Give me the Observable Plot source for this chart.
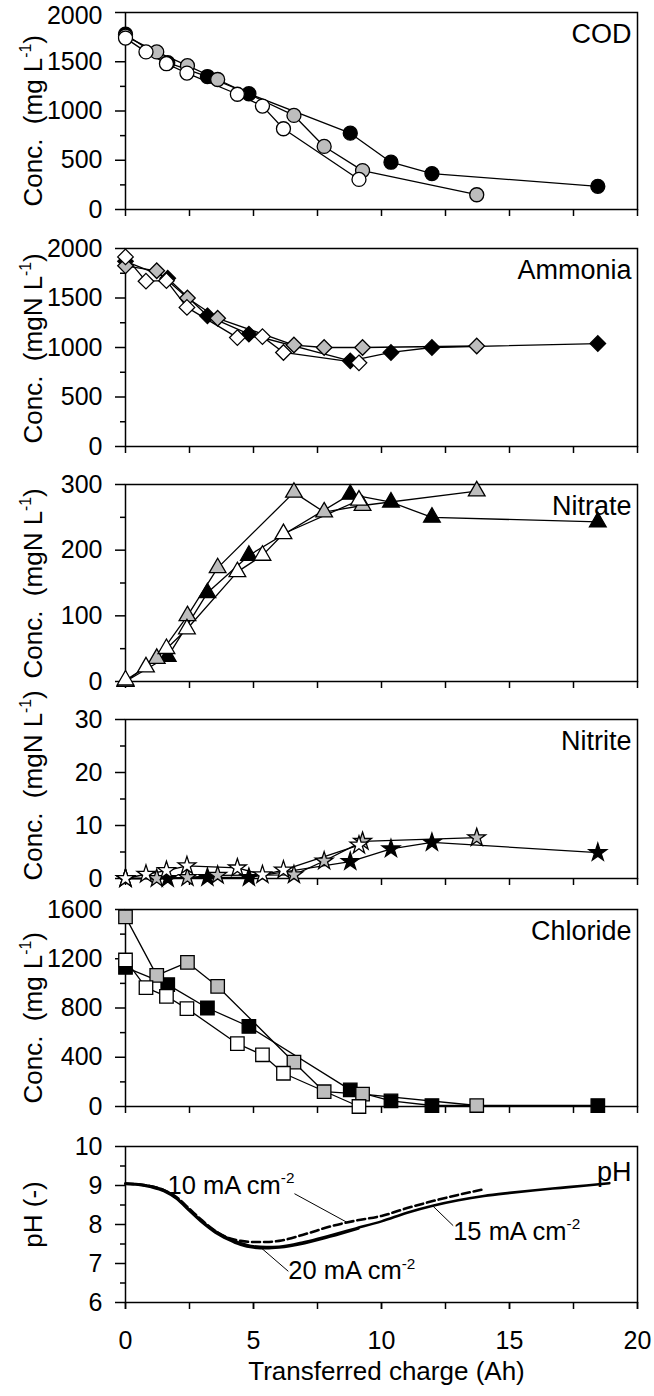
<!DOCTYPE html>
<html><head><meta charset="utf-8">
<script src="https://cdn.jsdelivr.net/npm/d3@7"></script>
<script src="https://cdn.jsdelivr.net/npm/@observablehq/plot@0.6"></script>
<style>
body{margin:0;background:#fff;}
#chart{position:relative;width:654px;height:1396px;overflow:hidden;font-family:"Liberation Sans",Arial,sans-serif;}
#chart > div{position:absolute;left:0;}
svg{overflow:visible;}
</style></head><body><div id="chart"></div>
<script>
// ---- sampling points (transferred charge, Ah) ----
const xBlack = [0, 1.65, 3.2, 4.82, 8.78, 10.37, 11.97, 18.45];
const xGray  = [0, 1.22, 2.42, 3.6, 6.58, 7.76, 9.26, 13.72];
const xWhite = [0, 0.8, 1.6, 2.4, 4.37, 5.35, 6.17, 9.12];

// ---- COD (mg L-1) ----
const codBlack = [1780, 1490, 1350, 1175, 775, 480, 365, 235];
const codGray  = [1760, 1600, 1460, 1320, 955, 640, 395, 150];
const codWhite = [1740, 1600, 1480, 1385, 1170, 1050, 820, 305];

// ---- Ammonia (mgN L-1) ----
const nh4Black = [1870, 1700, 1320, 1135, 865, 950, 1000, 1040];
const nh4Gray  = [1825, 1775, 1500, 1295, 1025, 1000, 1000, 1015];
const nh4White = [1915, 1670, 1675, 1405, 1100, 1110, 950, 845];

// ---- Nitrate (mgN L-1) ----
const no3Black = [0, 38, 135, 192, 285, 273, 250, 243];
const no3Gray  = [0, 35, 100, 173, 288, 258, 268, 290];
const no3White = [2, 22, 50, 80, 167, 192, 225, 276];

// ---- Nitrite (mgN L-1) ----
const no2Black = [0, 0, 0.2, 0.2, 3.2, 5.6, 6.8, 4.9];
const no2Gray  = [0, 0, 0.2, 0.6, 0.7, 3.3, 7.0, 7.7];
const no2White = [0, 0.8, 1.5, 2.4, 2.0, 0.7, 1.6, 6.3];

// ---- Chloride (mg L-1) ----
const clBlack = [1130, 990, 800, 650, 135, 45, 8, 8];
const clGray  = [1540, 1065, 1170, 975, 360, 120, 100, 8];
const clWhite = [1190, 965, 895, 795, 510, 420, 270, 0];

// ---- pH curves ----
const pH15x = [0, 0.5, 1, 1.5, 2, 2.5, 3, 3.5, 4, 4.5, 5, 5.5, 6, 7, 8, 9, 10, 11, 12, 13, 14, 15, 16, 17, 18, 18.9];
const pH15  = [9.05, 9.03, 8.98, 8.88, 8.68, 8.37, 8.08, 7.83, 7.65, 7.52, 7.44, 7.42, 7.43, 7.55, 7.72, 7.9, 8.08, 8.3, 8.48, 8.62, 8.73, 8.81, 8.88, 8.94, 9.0, 9.06];
const pH10x = [0, 0.5, 1, 1.5, 2, 2.5, 3, 3.5, 4, 4.5, 5, 5.5, 6, 7, 8, 9, 10, 11, 12, 13, 13.9];
const pH10  = [9.05, 9.03, 8.98, 8.88, 8.7, 8.4, 8.1, 7.84, 7.66, 7.58, 7.55, 7.55, 7.58, 7.75, 7.95, 8.1, 8.22, 8.42, 8.6, 8.76, 8.89];
const pH20x = [0, 0.5, 1, 1.5, 2, 2.5, 3, 3.5, 4, 4.5, 5, 5.5, 6, 7, 8, 9.1];
const pH20  = [9.04, 9.02, 8.96, 8.86, 8.66, 8.35, 8.05, 7.8, 7.62, 7.48, 7.41, 7.39, 7.41, 7.52, 7.69, 7.9];

// ---- labels ----
const panelTitles = ["COD", "Ammonia", "Nitrate", "Nitrite", "Chloride", "pH"];
const yLabels = ["Conc.  (mg L^-1)", "Conc.  (mgN L^-1)", "Conc.  (mgN L^-1)", "Conc.  (mgN L^-1)", "Conc.  (mg L^-1)", "pH (-)"];
const xLabel = "Transferred charge (Ah)";
const pHNotes = [
  {text: "10 mA cm^-2", x: 1.64, y: 9.0, x1: 6.6, y1: 8.79, x2: 8.64, y2: 8.06},
  {text: "15 mA cm^-2", x: 12.8, y: 7.82, x1: 12.8, y1: 7.97, x2: 11.98, y2: 8.49},
  {text: "20 mA cm^-2", x: 6.36, y: 6.8, x1: 6.36, y1: 6.8, x2: 5.3, y2: 7.4}
];

const FONT = "Liberation Sans, Arial, sans-serif";
const zipXY = (xs, ys) => xs.map((x, i) => ({x, y: ys[i]}));
const fills = {black: "#000", gray: "#bdbdbd", white: "#fff"};

function supify(svg) {
  d3.select(svg).selectAll("text").each(function () {
    const t = this.textContent;
    if (!t.includes("^")) return;
    const m = t.match(/^(.*)\^(-?\d+)(.*)$/);
    if (!m) return;
    const fs = parseFloat(this.getAttribute("font-size")) || parseFloat(this.parentNode.getAttribute("font-size")) || 24;
    while (this.firstChild) this.removeChild(this.firstChild);
    const s = d3.select(this);
    s.append("tspan").text(m[1]);
    s.append("tspan").attr("font-size", fs * 0.6).attr("dy", -fs * 0.42).text(m[2]);
    if (m[3]) s.append("tspan").attr("dy", fs * 0.42).text(m[3]);
  });
}

const panels = [
  {top: 12, bottom: 209, domain: [0, 2000], majors: [0, 500, 1000, 1500, 2000], minors: [250, 750, 1250, 1750],
   symbol: "circle", r: 7, series: [codBlack, codGray, codWhite]},
  {top: 248, bottom: 446, domain: [0, 2000], majors: [0, 500, 1000, 1500, 2000], minors: [250, 750, 1250, 1750],
   symbol: "diamond2", r: 7, series: [nh4Black, nh4Gray, nh4White]},
  {top: 484, bottom: 681, domain: [0, 300], majors: [0, 100, 200, 300], minors: [50, 150, 250],
   symbol: "triangle", r: 6.2, series: [no3Black, no3Gray, no3White]},
  {top: 719, bottom: 878, domain: [0, 30], majors: [0, 10, 20, 30], minors: [5, 15, 25],
   symbol: "star", r: 5.6, series: [no2Black, no2Gray, no2White]},
  {top: 909, bottom: 1106, domain: [0, 1600], majors: [0, 400, 800, 1200, 1600], minors: [200, 600, 1000, 1400],
   symbol: "square", r: 7.6, series: [clBlack, clGray, clWhite]},
  {top: 1146, bottom: 1302, domain: [6, 10], majors: [6, 7, 8, 9, 10], minors: [6.5, 7.5, 8.5, 9.5]}
];

const chart = document.getElementById("chart");
panels.forEach((p, i) => {
  const last = i === panels.length - 1;
  const mt = i === 0 ? 12 : 20;
  const mb = last ? 1396 - p.bottom : 22;
  const topMax = p.domain[1];
  const marks = [
    Plot.frame({stroke: "black", strokeWidth: 1.5}),
    Plot.axisY({ticks: p.majors, tickSize: 10, tickPadding: 13,
      tickFormat: d => (i === 0 && d === topMax) ? "" : String(d), label: null, strokeWidth: 1.5, fontSize: 25}),
    Plot.axisY({ticks: p.minors, tickSize: 5, tickFormat: () => "", label: null, strokeWidth: 1.5}),
    Plot.axisX({ticks: d3.range(0, 20.01, 2.5), tickSize: 7, tickFormat: () => "", label: null, strokeWidth: 1.5})
  ];
  if (i === 0) {
    // top tick label of the first panel, nudged down so it stays inside the page
    marks.push(Plot.text([topMax], {y: d => d, text: d => String(d), frameAnchor: "left", textAnchor: "end", lineAnchor: "middle", dx: -23, dy: 3, fontSize: 25}));
  }
  if (last) {
    marks.push(Plot.axisX({ticks: [0, 5, 10, 15, 20], tickSize: 7, tickPadding: 22, tickFormat: d => String(d), label: null, strokeWidth: 1.5, fontSize: 25}));
    marks.push(Plot.text([xLabel], {text: d => d, frameAnchor: "bottom", dx: 5, dy: 69, lineAnchor: "middle", fontSize: 26}));
    marks.push(Plot.line(zipXY(pH20x, pH20), {x: "x", y: "y", stroke: "black", strokeWidth: 2.6, curve: "monotone-x"}));
    marks.push(Plot.line(zipXY(pH15x, pH15), {x: "x", y: "y", stroke: "black", strokeWidth: 2.6, curve: "monotone-x"}));
    marks.push(Plot.line(zipXY(pH10x, pH10), {x: "x", y: "y", stroke: "black", strokeWidth: 2.6, strokeDasharray: "8,4", curve: "monotone-x"}));
    marks.push(Plot.link(pHNotes, {x1: "x1", y1: "y1", x2: "x2", y2: "y2", stroke: "black", strokeWidth: 1}));
    marks.push(Plot.text(pHNotes, {x: "x", y: "y", text: "text", textAnchor: "start", lineAnchor: "middle", fontSize: 25.5}));
    marks.push(Plot.text([yLabels[i]], {text: d => d, frameAnchor: "left", textAnchor: "middle", rotate: -90, lineAnchor: "middle", dx: -92, dy: -10, fontSize: 26}));
  } else {
    const xs = [xBlack, xGray, xWhite];
    const cols = ["black", "gray", "white"];
    p.series.forEach((ys, k) => marks.push(Plot.line(zipXY(xs[k], ys), {x: "x", y: "y", stroke: "black", strokeWidth: 1.3})));
    p.series.forEach((ys, k) => marks.push(Plot.dot(zipXY(xs[k], ys), {x: "x", y: "y", symbol: p.symbol, r: p.r, fill: fills[cols[k]], stroke: "black", strokeWidth: 1.3})));
    marks.push(Plot.text([yLabels[i]], {text: d => d, frameAnchor: "bottom-left", textAnchor: "start", rotate: -90, lineAnchor: "middle", dx: -92, dy: i === 3 ? 2 : -3, fontSize: 26}));
  }
  marks.push(Plot.text([panelTitles[i]], {text: d => d, frameAnchor: "top-right", textAnchor: "end", lineAnchor: "middle", dx: -6, dy: i === 5 ? 26 : 22, fontSize: 27}));

  const svg = Plot.plot({
    width: 654,
    height: mt + (p.bottom - p.top) + mb,
    marginLeft: 125, marginRight: 17, marginTop: mt, marginBottom: mb,
    x: {domain: [0, 20]},
    y: {domain: p.domain},
    style: {fontFamily: FONT, fontSize: "25px", background: "transparent", color: "black", overflow: "visible"},
    marks
  });
  const div = document.createElement("div");
  div.style.top = (p.top - mt) + "px";
  div.appendChild(svg);
  chart.appendChild(div);
  supify(svg);
});
</script></body></html>
